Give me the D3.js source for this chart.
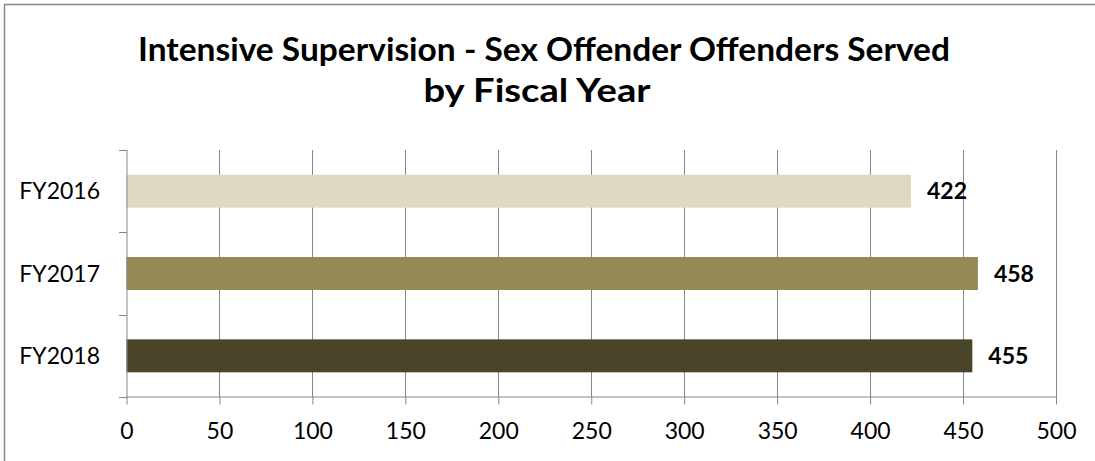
<!DOCTYPE html>
<html><head><meta charset="utf-8">
<script src="https://cdn.jsdelivr.net/npm/d3@7"></script>
<style>html,body{margin:0;padding:0;background:#fff;overflow:hidden}</style>
</head><body>
<svg id="c" width="1095" height="461"></svg>
<script>
const categories = ["FY2016", "FY2017", "FY2018"];
const values = [422, 458, 455];
const colors = ["#DDD9C3", "#948A54", "#4A452A"];
const xTicks = [0, 50, 100, 150, 200, 250, 300, 350, 400, 450, 500];
const titleLines = ["Intensive Supervision - Sex Offender Offenders Served", "by Fiscal Year"];

const svg = d3.select("#c");
const font = "Lato, 'Open Sans', sans-serif";

// chart area border (only top and left edges visible in the crop)
svg.append("path").attr("d", "M4.5,461V4.5H1095").attr("fill", "none")
  .attr("stroke", "#868686").attr("stroke-width", 1.5);

const x = d3.scaleLinear().domain([0, 500]).range([126.5, 1056]);
const y = d3.scaleBand().domain(categories).range([150, 397]).paddingInner(0.6).paddingOuter(0.3);

const grid = "#868686";
svg.append("g").selectAll("line").data(xTicks.slice(1)).join("line")
  .attr("x1", d => Math.round(x(d)) + 0.5).attr("x2", d => Math.round(x(d)) + 0.5)
  .attr("y1", 150).attr("y2", 397).attr("stroke", grid).attr("stroke-width", 1);

svg.append("g").selectAll("rect").data(categories).join("rect")
  .attr("x", x(0)).attr("y", d => y(d)).attr("height", y.bandwidth())
  .attr("width", (d, i) => x(values[i]) - x(0)).attr("fill", (d, i) => colors[i]);

const xAxis = svg.append("g").attr("transform", "translate(0,396.5)")
  .call(d3.axisBottom(x).tickValues(xTicks).tickSize(8).tickPadding(18).tickSizeOuter(0));
xAxis.select(".domain").attr("stroke", grid);
xAxis.selectAll(".tick line").attr("stroke", grid);
xAxis.selectAll("text").attr("font-family", font).attr("font-size", 23).attr("fill", "#000");

const yAxisG = svg.append("g");
yAxisG.append("line").attr("x1", 127).attr("x2", 127).attr("y1", 150).attr("y2", 397).attr("stroke", grid);
yAxisG.selectAll("line.t").data(d3.range(categories.length + 1)).join("line").attr("class", "t")
  .attr("x1", 119).attr("x2", 127)
  .attr("y1", i => Math.round(150 + i * y.step()) + 0.5).attr("y2", i => Math.round(150 + i * y.step()) + 0.5)
  .attr("stroke", grid);
yAxisG.selectAll("text").data(categories).join("text")
  .attr("x", 100).attr("y", d => y(d) + y.bandwidth() / 2).attr("dy", "0.36em")
  .attr("text-anchor", "end").attr("font-family", font).attr("font-size", 23).attr("fill", "#000")
  .text(d => d);

svg.append("g").selectAll("text").data(categories).join("text")
  .attr("x", (d, i) => x(values[i]) + 16).attr("y", d => y(d) + y.bandwidth() / 2).attr("dy", "0.36em")
  .attr("font-family", font).attr("font-size", 23).attr("font-weight", "bold").attr("fill", "#000")
  .text((d, i) => values[i]);

// title
const t1 = svg.append("text").attr("x", 544).attr("y", 60.5).attr("text-anchor", "middle")
  .attr("font-family", font).attr("font-weight", "bold").attr("font-size", 33).attr("fill", "#000")
  .attr("textLength", 812).attr("lengthAdjust", "spacingAndGlyphs")
  .text(titleLines[0]);
svg.append("text").attr("x", 537).attr("y", 102).attr("text-anchor", "middle")
  .attr("font-family", font).attr("font-weight", "bold").attr("font-size", 33).attr("fill", "#000")
  .attr("textLength", 227).attr("lengthAdjust", "spacingAndGlyphs")
  .text(titleLines[1]);
</script>
</body></html>
